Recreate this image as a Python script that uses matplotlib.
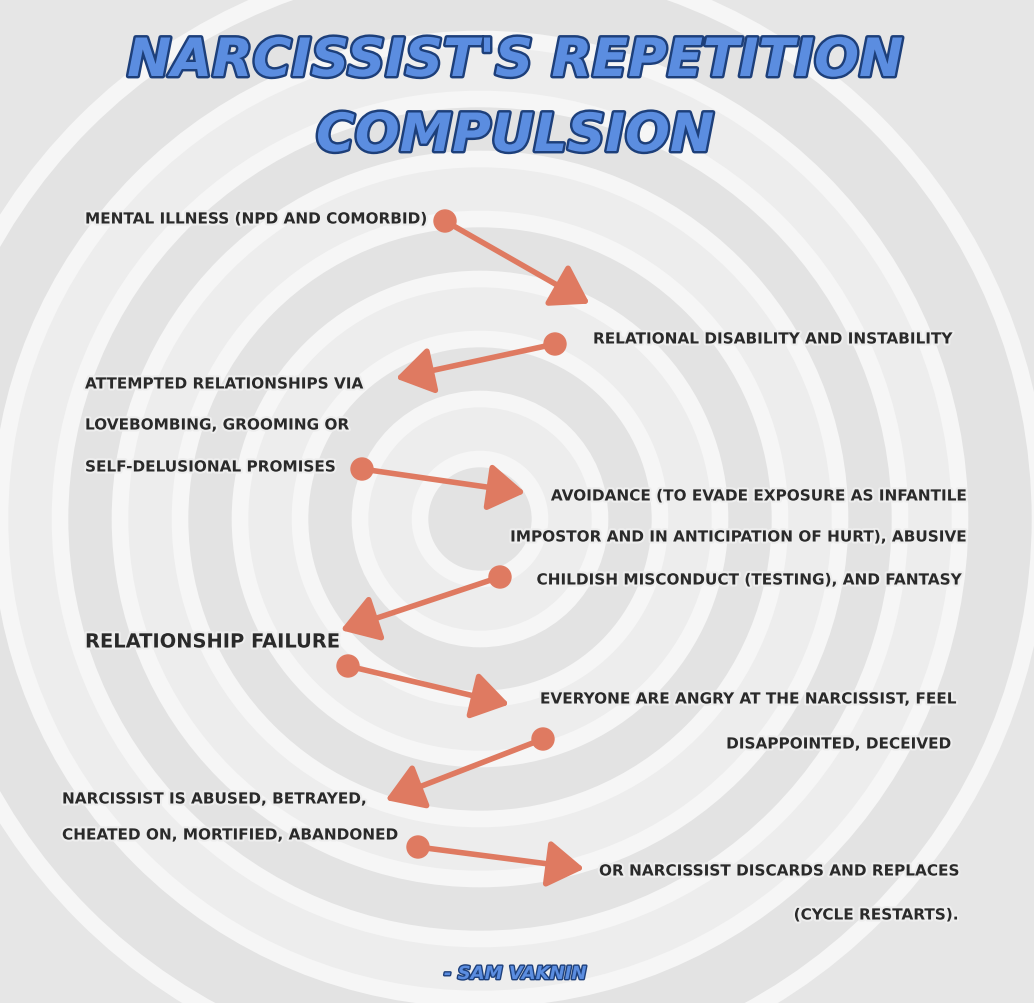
import matplotlib
matplotlib.use('Agg')
import matplotlib.pyplot as plt
import matplotlib.patheffects as pe
from matplotlib.patches import Circle, FancyArrowPatch

W, H = 1034, 1004
FONT = ['DejaVu Sans']

title_lines = ["NARCISSIST'S REPETITION", "COMPULSION"]
author = "- SAM VAKNIN"

# (text, x, y, alignment, size)
labels = [
    ("MENTAL ILLNESS (NPD AND COMORBID)", 85, 220, 'left', 11),
    ("RELATIONAL DISABILITY AND INSTABILITY", 593, 340, 'left', 11),
    ("ATTEMPTED RELATIONSHIPS VIA", 85, 385, 'left', 11),
    ("LOVEBOMBING, GROOMING OR", 85, 426, 'left', 11),
    ("SELF-DELUSIONAL PROMISES", 85, 468, 'left', 11),
    ("AVOIDANCE (TO EVADE EXPOSURE AS INFANTILE", 965, 497, 'right', 11),
    ("IMPOSTOR AND IN ANTICIPATION OF HURT), ABUSIVE", 965, 538, 'right', 11),
    ("CHILDISH MISCONDUCT (TESTING), AND FANTASY", 960, 581, 'right', 11),
    ("RELATIONSHIP FAILURE", 85, 643, 'left', 14),
    ("EVERYONE ARE ANGRY AT THE NARCISSIST, FEEL", 955, 700, 'right', 11),
    ("DISAPPOINTED, DECEIVED", 950, 745, 'right', 11),
    ("NARCISSIST IS ABUSED, BETRAYED,", 62, 800, 'left', 11),
    ("CHEATED ON, MORTIFIED, ABANDONED", 62, 836, 'left', 11),
    ("OR NARCISSIST DISCARDS AND REPLACES", 958, 872, 'right', 11),
    ("(CYCLE RESTARTS).", 958, 916, 'right', 11),
]

# arrows: (start, end)
arrows = [
    ((445, 222), (592, 306)),
    ((555, 345), (393, 380)),
    ((362, 470), (528, 494)),
    ((500, 578), (338, 632)),
    ((348, 667), (512, 706)),
    ((543, 740), (383, 802)),
    ((418, 848), (587, 870)),
]

rings = [560, 480, 420, 360, 300, 240, 180, 120, 60]

fig = plt.figure(figsize=(W / 100, H / 100), dpi=100)
ax = fig.add_axes([0, 0, 1, 1])
ax.set_xlim(0, W)
ax.set_ylim(H, 0)
ax.axis('off')
fig.patch.set_facecolor('#e6e6e6')

# maze-ish background
for i, r in enumerate(rings):
    ax.add_patch(Circle((480, 520), r, facecolor='#ededed' if i % 2 else '#e3e3e3',
                        edgecolor='#f6f6f6', lw=12, zorder=0))

for i, line in enumerate(title_lines):
    ax.text(515, 62 + i * 75, line, ha='center', va='center', fontsize=38,
            family=FONT, weight='bold', style='italic', color='#5b8de0',
            path_effects=[pe.withStroke(linewidth=3.5, foreground='#1d3f7a')])

for txt, x, y, ha, fs in labels:
    ax.text(x, y, txt, ha=ha, va='center', fontsize=fs, family=FONT,
            weight='bold', color='#2a2a2a',
            path_effects=[pe.withStroke(linewidth=3, foreground='#eeeeee')])

col = '#df7a61'
for (x0, y0), (x1, y1) in arrows:
    ax.add_patch(Circle((x0, y0), 11, color=col, zorder=3))
    ax.add_patch(FancyArrowPatch((x0, y0), (x1, y1), arrowstyle='-|>,head_length=14,head_width=9',
                                 mutation_scale=1.6, color=col, lw=4, zorder=3))

ax.text(515, 975, author, ha='center', va='center', fontsize=13, family=FONT,
        weight='bold', style='italic', color='#5b8de0',
        path_effects=[pe.withStroke(linewidth=2, foreground='#1d3f7a')])

plt.savefig('out.png', dpi=100)
plt.close()
